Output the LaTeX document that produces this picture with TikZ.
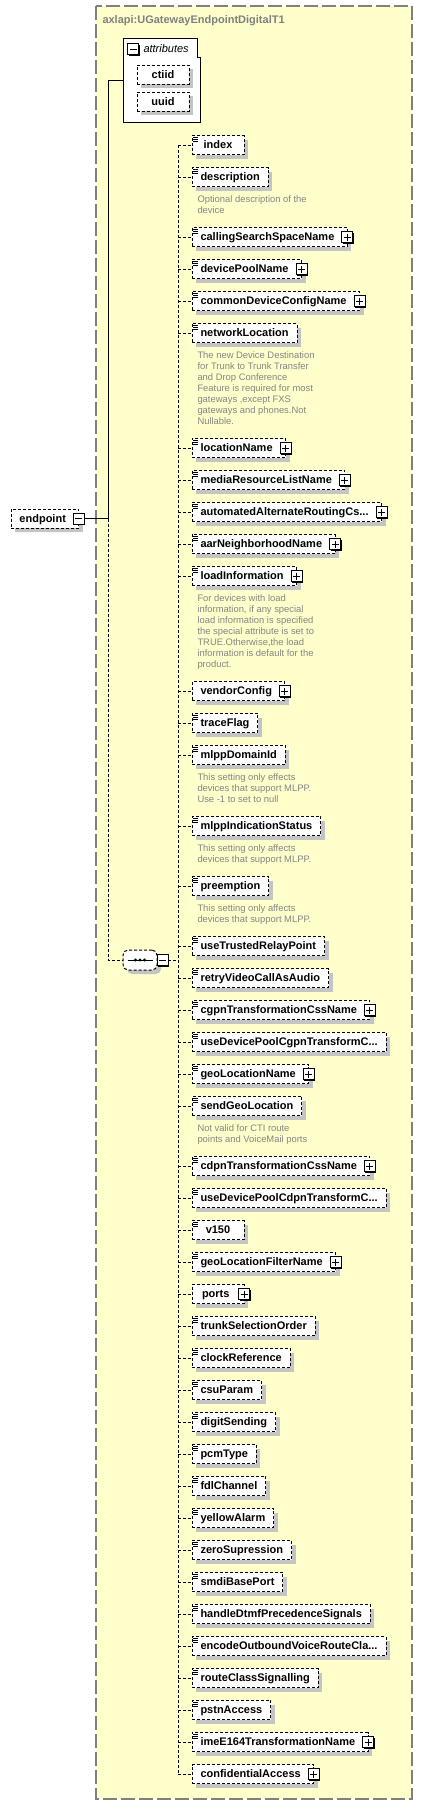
\documentclass[tikz,border=0pt]{standalone}
\usepackage{fontspec}
\setmainfont{Liberation Sans}
\usetikzlibrary{positioning,shadows}
\definecolor{bgyellow}{HTML}{FFFFCC}
\definecolor{shgrey}{HTML}{C4C4C4}
\definecolor{docgrey}{HTML}{848484}
\definecolor{framegrey}{HTML}{808080}

\begin{document}
\begin{tikzpicture}[x=1pt, y=1pt, node distance=13pt, line width=1pt]
    \tikzstyle{elem}=[draw, dash pattern=on 3pt off 2pt, fill=white, anchor=north west,
        minimum width=52pt, minimum height=19pt, inner xsep=8.5pt, inner ysep=2pt, outer sep=0pt,
        text height=8.5pt, text depth=1.5pt, font=\bfseries\fontsize{11}{13}\selectfont,
        drop shadow={shadow xshift=4pt, shadow yshift=-4pt, fill=shgrey, opacity=1}]
    \tikzstyle{many}=[path picture={\draw[solid]
        ([xshift=1pt,yshift=-1.5pt]path picture bounding box.north west) -- ++(5pt,0)
        ([xshift=1pt,yshift=-3.5pt]path picture bounding box.north west) -- ++(5pt,0)
        ([xshift=1pt,yshift=-5.5pt]path picture bounding box.north west) -- ++(5pt,0);}]
    \tikzstyle{more}=[execute at end node={\hspace{4.5pt}}]
    \tikzstyle{pbox}=[draw, solid, fill=white, minimum size=11pt, inner sep=0pt, outer sep=0pt,
        drop shadow={shadow xshift=1pt, shadow yshift=-1pt, fill=black, opacity=1}]
    \tikzstyle{plusbox}=[pbox, path picture={\draw
        ([xshift=2pt]path picture bounding box.west) -- ([xshift=-2pt]path picture bounding box.east)
        ([yshift=-2pt]path picture bounding box.north) -- ([yshift=2pt]path picture bounding box.south);}]
    \tikzstyle{minusbox}=[pbox, path picture={\draw
        ([xshift=2pt]path picture bounding box.west) -- ([xshift=-2pt]path picture bounding box.east);}]
    \tikzstyle{doc}=[anchor=north west, xshift=5pt, align=left, inner sep=0pt, text=docgrey,
        font=\fontsize{9.4}{11}\selectfont]
    \tikzstyle{seqbox}=[draw, dash pattern=on 3pt off 2pt, fill=white, rounded corners=5pt,
        minimum width=34pt, minimum height=20pt, outer sep=0pt,
        drop shadow={shadow xshift=4pt, shadow yshift=-4pt, fill=shgrey, opacity=1}]
    \tikzstyle{conn}=[dash pattern=on 3pt off 2pt]

    \draw[draw=framegrey, fill=bgyellow, line width=1.5pt, dash pattern=on 14pt off 4pt]
        (96,-6) rectangle (412,-1799);
    \node[anchor=base west, inner sep=0pt, text=framegrey, font=\bfseries\fontsize{11}{13}\selectfont]
        (ttl) at (102,-23) {axlapi:UGatewayEndpointDigitalT1};

    % attributes
    \draw[fill=white] (123,-38) -- (197,-38) -- (197,-57) -- (200,-57) -- (200,-122) -- (123,-122) -- cycle;
    \node[minusbox] (attm) at (133,-49) {};
    \node[anchor=base west, inner sep=0pt, font=\itshape\fontsize{11}{13}\selectfont] (attt) at (143,-52) {attributes};
    \node[elem] (cti) at (137,-65) {ctiid};
    \node (uid)[below=8pt of cti.south west, elem] {uuid};
    \coordinate (attw) at (123,-80);

    % root and sequence
    \node[elem, more] (ep) at (11,-509) {endpoint};
    \node[minusbox] (epm) at (ep.east) {};
    \coordinate (hub) at (108,-518.5);
    \node[seqbox] (seq) at (140,-960) {};
    \draw ([xshift=-12.5pt]seq.center) -- ([xshift=12.5pt]seq.center);
    \fill ([xshift=-4.5pt]seq.center) circle (1.7pt) (seq.center) circle (1.7pt) ([xshift=4.5pt]seq.center) circle (1.7pt);
    \node[minusbox] (seqm) at ([xshift=5.5pt]seq.east) {};
    \coordinate (bus) at (178,-960);

    % children
    \node[elem, many] (idx) at (192,-135.5) {index};
    \node (dsc)[below=of idx.south west, elem, many] {description};
    \node (dscd)[below=8.5pt of dsc.south west, doc] {Optional description of the\\device};
    \node (css)[below=41pt of dsc.south west, elem, many, more] {callingSearchSpaceName};
    \node[plusbox] (cssx) at (css.east) {};
    \node (dpn)[below=of css.south west, elem, many, more] {devicePoolName};
    \node[plusbox] (dpnx) at (dpn.east) {};
    \node (cdc)[below=of dpn.south west, elem, many, more] {commonDeviceConfigName};
    \node[plusbox] (cdcx) at (cdc.east) {};
    \node (nwl)[below=of cdc.south west, elem, many] {networkLocation};
    \node (nwld)[below=8.5pt of nwl.south west, doc] {The new Device Destination\\for Trunk to Trunk Transfer\\and Drop Conference\\Feature is required for most\\gateways ,except FXS\\gateways and phones.Not\\Nullable.};
    \node (lcn)[below=96pt of nwl.south west, elem, many, more] {locationName};
    \node[plusbox] (lcnx) at (lcn.east) {};
    \node (mrl)[below=of lcn.south west, elem, many, more] {mediaResourceListName};
    \node[plusbox] (mrlx) at (mrl.east) {};
    \node (aar)[below=of mrl.south west, elem, many, more] {automatedAlternateRoutingCs...};
    \node[plusbox] (aarx) at (aar.east) {};
    \node (aan)[below=of aar.south west, elem, many, more] {aarNeighborhoodName};
    \node[plusbox] (aanx) at (aan.east) {};
    \node (ldi)[below=of aan.south west, elem, many, more] {loadInformation};
    \node[plusbox] (ldix) at (ldi.east) {};
    \node (ldid)[below=8.5pt of ldi.south west, doc] {For devices with load\\information, if any special\\load information is specified\\the special attribute is set to\\TRUE.Otherwise,the load\\information is default for the\\product.};
    \node (vdc)[below=96pt of ldi.south west, elem, more] {vendorConfig};
    \node[plusbox] (vdcx) at (vdc.east) {};
    \node (trf)[below=of vdc.south west, elem, many] {traceFlag};
    \node (mdi)[below=of trf.south west, elem, many] {mlppDomainId};
    \node (mdid)[below=8.5pt of mdi.south west, doc] {This setting only effects\\devices that support MLPP.\\Use -1 to set to null};
    \node (mis)[below=52pt of mdi.south west, elem, many] {mlppIndicationStatus};
    \node (misd)[below=8.5pt of mis.south west, doc] {This setting only affects\\devices that support MLPP.};
    \node (pre)[below=41pt of mis.south west, elem, many] {preemption};
    \node (pred)[below=8.5pt of pre.south west, doc] {This setting only affects\\devices that support MLPP.};
    \node (utr)[below=41pt of pre.south west, elem, many] {useTrustedRelayPoint};
    \node (rva)[below=of utr.south west, elem, many] {retryVideoCallAsAudio};
    \node (cgp)[below=of rva.south west, elem, many, more] {cgpnTransformationCssName};
    \node[plusbox] (cgpx) at (cgp.east) {};
    \node (udg)[below=of cgp.south west, elem, many] {useDevicePoolCgpnTransformC...};
    \node (gln)[below=of udg.south west, elem, many, more] {geoLocationName};
    \node[plusbox] (glnx) at (gln.east) {};
    \node (sgl)[below=of gln.south west, elem, many] {sendGeoLocation};
    \node (sgld)[below=8.5pt of sgl.south west, doc] {Not valid for CTI route\\points and VoiceMail ports};
    \node (cdp)[below=41pt of sgl.south west, elem, many, more] {cdpnTransformationCssName};
    \node[plusbox] (cdpx) at (cdp.east) {};
    \node (udd)[below=of cdp.south west, elem, many] {useDevicePoolCdpnTransformC...};
    \node (v15)[below=of udd.south west, elem, many] {v150};
    \node (glf)[below=of v15.south west, elem, many, more] {geoLocationFilterName};
    \node[plusbox] (glfx) at (glf.east) {};
    \node (prt)[below=of glf.south west, elem, more] {ports};
    \node[plusbox] (prtx) at (prt.east) {};
    \node (tso)[below=of prt.south west, elem, many] {trunkSelectionOrder};
    \node (clk)[below=of tso.south west, elem, many] {clockReference};
    \node (csu)[below=of clk.south west, elem, many] {csuParam};
    \node (dgs)[below=of csu.south west, elem, many] {digitSending};
    \node (pcm)[below=of dgs.south west, elem, many] {pcmType};
    \node (fdl)[below=of pcm.south west, elem, many] {fdlChannel};
    \node (yla)[below=of fdl.south west, elem, many] {yellowAlarm};
    \node (zsp)[below=of yla.south west, elem, many] {zeroSupression};
    \node (smd)[below=of zsp.south west, elem, many] {smdiBasePort};
    \node (hdp)[below=of smd.south west, elem, many] {handleDtmfPrecedenceSignals};
    \node (eov)[below=of hdp.south west, elem, many] {encodeOutboundVoiceRouteCla...};
    \node (rcs)[below=of eov.south west, elem, many] {routeClassSignalling};
    \node (pst)[below=of rcs.south west, elem, many] {pstnAccess};
    \node (ime)[below=of pst.south west, elem, many, more] {imeE164TransformationName};
    \node[plusbox] (imex) at (ime.east) {};
    \node (cfa)[below=of ime.south west, elem, more] {confidentialAccess};
    \node[plusbox] (cfax) at (cfa.east) {};

    \draw (epm.east) -- (hub) |- (attw);
    \draw[conn] (hub) |- (seq.west);
    \draw[conn] (seqm.east) -- (bus);
    \draw[conn] (bus |- idx.west) -- (bus |- cfa.west);
    \path[conn]
    (bus |- idx.west) edge (idx.west)   (bus |- dsc.west) edge (dsc.west)
    (bus |- css.west) edge (css.west)   (bus |- dpn.west) edge (dpn.west)
    (bus |- cdc.west) edge (cdc.west)   (bus |- nwl.west) edge (nwl.west)
    (bus |- lcn.west) edge (lcn.west)   (bus |- mrl.west) edge (mrl.west)
    (bus |- aar.west) edge (aar.west)   (bus |- aan.west) edge (aan.west)
    (bus |- ldi.west) edge (ldi.west)   (bus |- vdc.west) edge (vdc.west)
    (bus |- trf.west) edge (trf.west)   (bus |- mdi.west) edge (mdi.west)
    (bus |- mis.west) edge (mis.west)   (bus |- pre.west) edge (pre.west)
    (bus |- utr.west) edge (utr.west)   (bus |- rva.west) edge (rva.west)
    (bus |- cgp.west) edge (cgp.west)   (bus |- udg.west) edge (udg.west)
    (bus |- gln.west) edge (gln.west)   (bus |- sgl.west) edge (sgl.west)
    (bus |- cdp.west) edge (cdp.west)   (bus |- udd.west) edge (udd.west)
    (bus |- v15.west) edge (v15.west)   (bus |- glf.west) edge (glf.west)
    (bus |- prt.west) edge (prt.west)   (bus |- tso.west) edge (tso.west)
    (bus |- clk.west) edge (clk.west)   (bus |- csu.west) edge (csu.west)
    (bus |- dgs.west) edge (dgs.west)   (bus |- pcm.west) edge (pcm.west)
    (bus |- fdl.west) edge (fdl.west)   (bus |- yla.west) edge (yla.west)
    (bus |- zsp.west) edge (zsp.west)   (bus |- smd.west) edge (smd.west)
    (bus |- hdp.west) edge (hdp.west)   (bus |- eov.west) edge (eov.west)
    (bus |- rcs.west) edge (rcs.west)   (bus |- pst.west) edge (pst.west)
    (bus |- ime.west) edge (ime.west)   (bus |- cfa.west) edge (cfa.west);

    \pgfresetboundingbox
    \useasboundingbox (0,0) rectangle (422,-1805);
\end{tikzpicture}
\end{document}
